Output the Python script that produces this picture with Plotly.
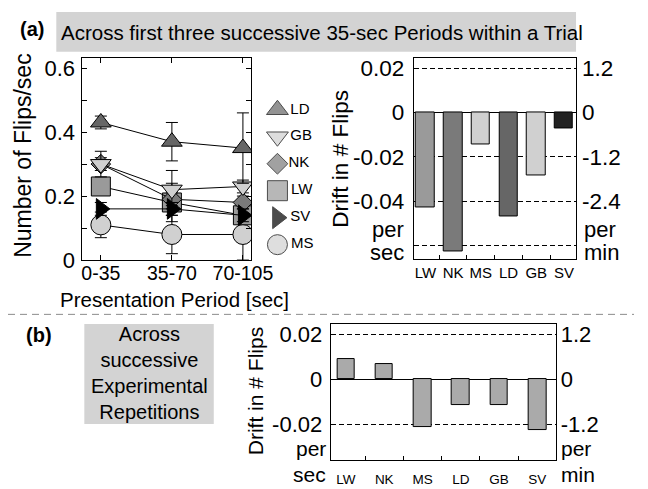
import plotly.graph_objects as go

# ---------------- data ----------------
periods = ["0-35", "35-70", "70-105"]

ld_rate = [0.43, 0.37, 0.35]
ld_err = [0.02, 0.06, 0.11]
gb_rate = [0.30, 0.22, 0.23]
gb_err = [0.04, 0.06, 0.02]
nk_rate = [0.30, 0.19, 0.18]
nk_err = [0.02, 0.02, 0.02]
lw_rate = [0.23, 0.18, 0.14]
lw_err = [0.02, 0.06, 0.02]
sv_rate = [0.16, 0.16, 0.14]
sv_err = [0.02, 0.02, 0.02]
ms_rate = [0.11, 0.08, 0.08]
ms_err = [0.04, 0.06, 0.08]

legend_labels = ["LD", "GB", "NK", "LW", "SV", "MS"]

drift_subjects = ["LW", "NK", "MS", "LD", "GB", "SV"]
drift_within_trial = [-0.043, -0.0628, -0.0146, -0.0469, -0.0286, -0.0073]
drift_across_reps = [0.009, 0.0067, -0.0214, -0.0116, -0.0116, -0.0226]

left_ticks = [0, 0.1, 0.2, 0.3, 0.4, 0.5, 0.6]
left_ticktext = ["0", "", "0.2", "", "0.4", "", "0.6"]
sec_ticks_a = [-0.06, -0.04, -0.02, 0, 0.02]
sec_text_a = ["", "-0.04", "-0.02", "0", "0.02"]
min_ticks_a = [-2.4, -1.2, 0, 1.2]
min_text_a = ["-2.4", "-1.2", "0", "1.2"]
sec_ticks_b = [-0.02, 0, 0.02]
sec_text_b = ["-0.02", "0", "0.02"]
min_ticks_b = [-1.2, 0, 1.2]
min_text_b = ["-1.2", "0", "1.2"]

# ---------------- style ----------------
W, H = 648, 489
FONT = "Liberation Sans, Arial, Helvetica, sans-serif"


def X(px):
    return px / W


def Y(py):
    return 1 - py / H


series_style = {
    "LD": dict(symbol="triangle-up", color="#666666", size=18),
    "GB": dict(symbol="triangle-down", color="#d0d0d0", size=18),
    "NK": dict(symbol="diamond", color="#7a7a7a", size=15),
    "LW": dict(symbol="square", color="#9a9a9a", size=19),
    "SV": dict(symbol="triangle-right", color="#000000", size=18),
    "MS": dict(symbol="circle", color="#d0d0d0", size=20),
}
legend_sizes = {"LD": 19, "GB": 19, "NK": 16, "LW": 20, "SV": 19, "MS": 20}
bar_colors_a = ["#9a9a9a", "#7a7a7a", "#d0d0d0", "#666666", "#d0d0d0", "#222222"]
bar_color_b = "#aaaaaa"

fig = go.Figure()

# ---------------- left line chart ----------------
draw_order = [
    ("MS", ms_rate, ms_err),
    ("LW", lw_rate, lw_err),
    ("NK", nk_rate, nk_err),
    ("GB", gb_rate, gb_err),
    ("SV", sv_rate, sv_err),
    ("LD", ld_rate, ld_err),
]
for name, vals, errs in draw_order:
    st = series_style[name]
    fig.add_trace(go.Scatter(
        x=periods, y=vals, name=name, mode="lines+markers",
        xaxis="x", yaxis="y",
        line=dict(color="black", width=1),
        marker=dict(symbol=st["symbol"], color=st["color"], size=st["size"],
                    line=dict(color="black", width=1)),
        error_y=dict(type="data", array=errs, color="black", thickness=1, width=6),
        showlegend=False, hoverinfo="skip",
    ))

# legend drawn as markers + labels
fig.add_trace(go.Scatter(
    x=[0.27] * len(legend_labels), y=list(range(len(legend_labels))),
    xaxis="x4", yaxis="y6", mode="markers+text",
    text=legend_labels, textposition="middle right",
    textfont=dict(family=FONT, size=15, color="black"),
    marker=dict(symbol=[series_style[n]["symbol"] for n in legend_labels],
                color=[series_style[n]["color"] for n in legend_labels],
                size=[legend_sizes[n] for n in legend_labels],
                line=dict(color="black", width=1)),
    showlegend=False, hoverinfo="skip",
))

# ---------------- upper bar chart ----------------
fig.add_trace(go.Bar(
    x=drift_subjects, y=drift_within_trial, xaxis="x2", yaxis="y2",
    marker=dict(color=bar_colors_a, line=dict(color="black", width=1)),
    width=0.66, showlegend=False, hoverinfo="skip",
))
fig.add_trace(go.Scatter(
    x=drift_subjects, y=[v * 60 for v in drift_within_trial], xaxis="x2", yaxis="y3",
    mode="markers", marker=dict(opacity=0), showlegend=False, hoverinfo="skip",
))

# ---------------- lower bar chart ----------------
fig.add_trace(go.Bar(
    x=drift_subjects, y=drift_across_reps, xaxis="x3", yaxis="y4",
    marker=dict(color=bar_color_b, line=dict(color="black", width=1)),
    width=0.46, showlegend=False, hoverinfo="skip",
))
fig.add_trace(go.Scatter(
    x=drift_subjects, y=[v * 60 for v in drift_across_reps], xaxis="x3", yaxis="y5",
    mode="markers", marker=dict(opacity=0), showlegend=False, hoverinfo="skip",
))

axis_common = dict(showline=True, linecolor="black", linewidth=1, tickcolor="black",
                   showgrid=False, zeroline=False)

rng_a = [-0.0662, 0.0244]
rng_b = [-0.0359, 0.0245]

fig.update_layout(
    width=W, height=H,
    margin=dict(l=0, r=0, t=0, b=0),
    paper_bgcolor="white", plot_bgcolor="white",
    font=dict(family=FONT, color="black"),
    bargap=0,
    xaxis=dict(domain=[X(77), X(252)], anchor="y", type="category",
               categoryarray=periods, range=[-0.26, 2.12],
               ticks="inside", ticklen=5, mirror="ticks", tickangle=0,
               tickfont=dict(size=19.5), ticklabelstandoff=-4, **axis_common),
    yaxis=dict(domain=[Y(258), Y(50)], anchor="x", range=[0, 0.63],
               tickvals=left_ticks, ticktext=left_ticktext,
               ticks="inside", ticklen=5, mirror="ticks",
               tickfont=dict(size=22), ticklabelstandoff=2, **axis_common),
    xaxis2=dict(domain=[X(420), X(588)], anchor="y2", type="category",
                categoryarray=drift_subjects, range=[-0.42, 5.435],
                ticks="inside", tickson="boundaries", ticklen=4, mirror=True,
                tickangle=0, tickfont=dict(size=15), ticklabelstandoff=0,
                **axis_common),
    yaxis2=dict(domain=[Y(257), Y(50)], anchor="x2", range=rng_a,
                tickvals=sec_ticks_a, ticktext=sec_text_a, ticks="",
                showline=True, linecolor="black", linewidth=1, mirror=True,
                showgrid=True, gridcolor="black", gridwidth=1, griddash="5px,3px",
                zeroline=True, zerolinecolor="black", zerolinewidth=1,
                tickfont=dict(size=22.5), ticklabelstandoff=4),
    yaxis3=dict(overlaying="y2", side="right", anchor="x2",
                range=[rng_a[0] * 60, rng_a[1] * 60],
                tickvals=min_ticks_a, ticktext=min_text_a, ticks="",
                showline=False, showgrid=False, zeroline=False,
                tickfont=dict(size=22.5), ticklabelstandoff=5),
    xaxis3=dict(domain=[X(334), X(567)], anchor="y4", type="category",
                categoryarray=drift_subjects, range=[-0.4, 5.48],
                ticks="inside", tickson="boundaries", ticklen=4, mirror=True,
                tickangle=0, tickfont=dict(size=13.5), ticklabelstandoff=7,
                **axis_common),
    yaxis4=dict(domain=[Y(464), Y(324)], anchor="x3", range=rng_b,
                tickvals=sec_ticks_b, ticktext=sec_text_b, ticks="",
                showline=True, linecolor="black", linewidth=1, mirror=True,
                showgrid=True, gridcolor="black", gridwidth=1, griddash="5px,3px",
                zeroline=True, zerolinecolor="black", zerolinewidth=1,
                tickfont=dict(size=22), ticklabelstandoff=3),
    yaxis5=dict(overlaying="y4", side="right", anchor="x3",
                range=[rng_b[0] * 60, rng_b[1] * 60],
                tickvals=min_ticks_b, ticktext=min_text_b, ticks="",
                showline=False, showgrid=False, zeroline=False,
                tickfont=dict(size=22), ticklabelstandoff=4),
    xaxis4=dict(domain=[X(260), X(330)], anchor="y6", range=[0, 1], visible=False),
    yaxis6=dict(domain=[Y(256), Y(89)], anchor="x4", range=[5.5, -0.5], visible=False),
)

shapes = [
    dict(type="rect", xref="paper", yref="paper", x0=X(50), x1=X(588), y0=Y(43), y1=Y(2),
         fillcolor="#d3d3d3", line=dict(width=0), layer="below"),
    dict(type="rect", xref="paper", yref="paper", x0=X(79), x1=X(213), y0=Y(427), y1=Y(324),
         fillcolor="#d3d3d3", line=dict(width=0), layer="below"),
    dict(type="line", xref="paper", yref="paper", x0=0, x1=1, y0=Y(314), y1=Y(314),
         line=dict(color="#8c8c8c", width=1, dash="7px,5px")),
]
fig.update_layout(shapes=shapes)


def ann(text, x, y, size, xanchor="center", angle=0, bold=False):
    return dict(text=f"<b>{text}</b>" if bold else text, x=X(x), y=Y(y),
                xref="paper", yref="paper", xanchor=xanchor, yanchor="middle",
                showarrow=False, textangle=angle, font=dict(size=size, color="black"))


annotations = [
    ann("(a)", 25, 20, 20, bold=True),
    ann("Across first three successive 35-sec Periods within a Trial", 53, 23, 20.5, xanchor="left"),
    ann("(b)", 32, 335, 20, bold=True),
    ann("Across<br>successive<br>Experimental<br>Repetitions", 146, 375, 20),
    ann("Number of Flips/sec", 16, 150, 23, angle=-90),
    ann("Presentation Period [sec]", 172, 299, 20.5),
    ann("Drift in # Flips", 344, 153, 22.5, angle=-90),
    ann("Drift in # Flips", 257, 393, 21, angle=-90),
    ann("per", 412, 226, 22, xanchor="right"),
    ann("sec", 412, 250, 22, xanchor="right"),
    ann("per", 594, 226, 22, xanchor="left"),
    ann("min", 594, 250, 22, xanchor="left"),
    ann("per", 331, 452, 21, xanchor="right"),
    ann("sec", 331, 479, 21, xanchor="right"),
    ann("per", 570, 452, 21, xanchor="left"),
    ann("min", 570, 479, 21, xanchor="left"),
]
fig.update_layout(annotations=annotations)

fig.write_html("out.html")
